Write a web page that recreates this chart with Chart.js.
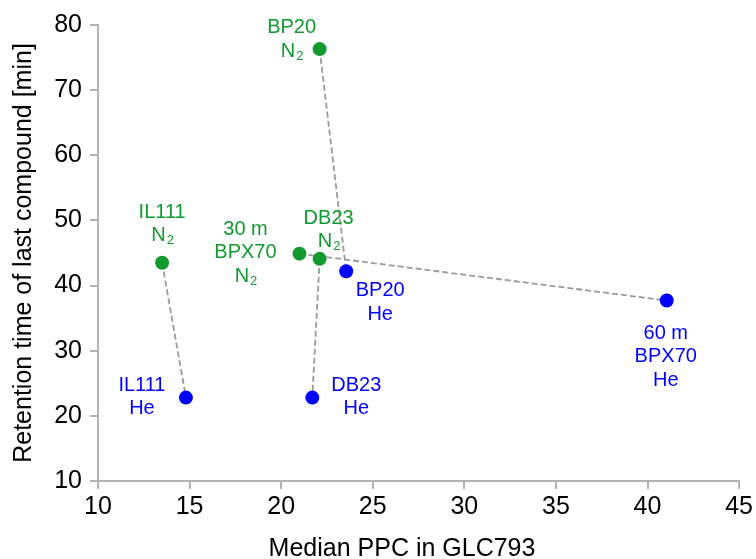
<!DOCTYPE html>
<html>
<head>
<meta charset="utf-8">
<script src="https://cdn.jsdelivr.net/npm/chart.js@4"></script>
<style>
  body { margin: 0; background: #fff; }
  #wrap { width: 756px; height: 559px; }
</style>
</head>
<body>
<div id="wrap"><canvas id="chart" width="756" height="559"></canvas></div>
<script>
// Columns in the order of the pairs (N2 point -> He point)
const columns = ['IL111', 'BPX70', 'DB23', 'BP20'];

// Nitrogen carrier gas
const n2PPC = [13.5, 21.0, 22.1, 22.1];
const n2Time = [43.5, 44.9, 44.1, 76.3];
const n2Labels = [['IL111', 'N₂'], ['30 m', 'BPX70', 'N₂'], ['DB23', 'N₂'], ['BP20', 'N₂']];

// Helium carrier gas
const hePPC = [14.8, 41.05, 21.7, 23.55];
const heTime = [22.8, 37.7, 22.8, 42.2];
const heLabels = [['IL111', 'He'], ['60 m', 'BPX70', 'He'], ['DB23', 'He'], ['BP20', 'He']];

const xTicks = [10, 15, 20, 25, 30, 35, 40, 45];
const yTicks = [10, 20, 30, 40, 50, 60, 70, 80];

const GREEN = '#109a30';
const BLUE = '#0000ff';
const AXIS = '#b3b3b3';
const FONT = '"Liberation Sans", Arial, sans-serif';

// label placement relative to each point: dx and the caps-centre of the first line
const n2Offsets = [[0, -52], [-54, -26], [9, -42], [-28, -23]];
const heOffsets = [[-44, -14], [-1, 31], [44, -14], [34, 18]];
const LINE_GAP = 23.5;

const pairSets = columns.map((c, i) => ({
    type: 'line',
    label: c,
    data: [{ x: n2PPC[i], y: n2Time[i] }, { x: hePPC[i], y: heTime[i] }],
    borderColor: '#9a9a9a',
    borderWidth: 1.8,
    borderDash: [6, 3],
    pointRadius: 0,
    fill: false,
    order: 3
}));

function toPoints(xs, ys) {
    return xs.map((x, i) => ({ x: x, y: ys[i] }));
}

// Draw a line of text; '₂' is drawn as a small lowered 2
function drawLine(ctx, text, cx, baseline) {
    const parts = text.split('₂');
    ctx.font = '20px ' + FONT;
    const main = ctx.measureText(parts[0]).width;
    let sub = 0;
    if (parts.length > 1) {
        ctx.font = '13px ' + FONT;
        sub = ctx.measureText('2').width;
    }
    let x = cx - (main + sub) / 2;
    ctx.font = '20px ' + FONT;
    ctx.fillText(parts[0], x, baseline);
    if (parts.length > 1) {
        ctx.font = '13px ' + FONT;
        ctx.fillText('2', x + main + 1, baseline + 3);
    }
}

const pointLabels = {
    id: 'pointLabels',
    afterDatasetsDraw(chart) {
        const ctx = chart.ctx;
        ctx.save();
        ctx.textAlign = 'left';
        ctx.textBaseline = 'alphabetic';
        [[4, n2Labels, n2Offsets, GREEN], [5, heLabels, heOffsets, BLUE]].forEach(([idx, labels, offs, color]) => {
            const meta = chart.getDatasetMeta(idx);
            ctx.fillStyle = color;
            meta.data.forEach((pt, i) => {
                labels[i].forEach((line, j) => {
                    drawLine(ctx, line, pt.x + offs[i][0], pt.y + offs[i][1] + j * LINE_GAP + 7);
                });
            });
        });
        // x axis title
        const area = chart.chartArea;
        ctx.fillStyle = '#000';
        ctx.font = '25px ' + FONT;
        ctx.textAlign = 'center';
        ctx.fillText('Median PPC in GLC793', area.left + 304, 556);
        ctx.restore();
    }
};

new Chart(document.getElementById('chart'), {
    type: 'scatter',
    data: {
        datasets: pairSets.concat([
            {
                label: 'N2',
                data: toPoints(n2PPC, n2Time),
                backgroundColor: GREEN,
                borderWidth: 0,
                pointRadius: 7,
                order: 1
            },
            {
                label: 'He',
                data: toPoints(hePPC, heTime),
                backgroundColor: BLUE,
                borderWidth: 0,
                pointRadius: 7,
                order: 1
            }
        ])
    },
    options: {
        responsive: false,
        animation: false,
        layout: { padding: { top: 25, right: 14, left: 0, bottom: 0 } },
        plugins: {
            legend: { display: false },
            tooltip: { enabled: false }
        },
        scales: {
            x: {
                type: 'linear',
                min: 10,
                max: 45,
                afterBuildTicks: (axis) => { axis.ticks = xTicks.map(v => ({ value: v })); },
                afterFit: (axis) => { axis.height = 78; },
                grid: { drawOnChartArea: false, drawTicks: true, tickLength: 8, color: AXIS, lineWidth: 2 },
                border: { color: AXIS, width: 2 },
                ticks: { color: '#000', font: { family: FONT, size: 25 }, padding: 3 }
            },
            y: {
                type: 'linear',
                min: 10,
                max: 80,
                afterBuildTicks: (axis) => { axis.ticks = yTicks.map(v => ({ value: v })); },
                afterFit: (axis) => { axis.width = 98; },
                grid: { drawOnChartArea: false, drawTicks: true, tickLength: 8, color: AXIS, lineWidth: 2 },
                border: { color: AXIS, width: 2 },
                ticks: { color: '#000', font: { family: FONT, size: 25 }, padding: 8 },
                title: {
                    display: true,
                    text: 'Retention time of last compound [min]',
                    color: '#000',
                    font: { family: FONT, size: 25 },
                    padding: { top: 9, bottom: 0 }
                }
            }
        }
    },
    plugins: [pointLabels]
});
</script>
</body>
</html>
